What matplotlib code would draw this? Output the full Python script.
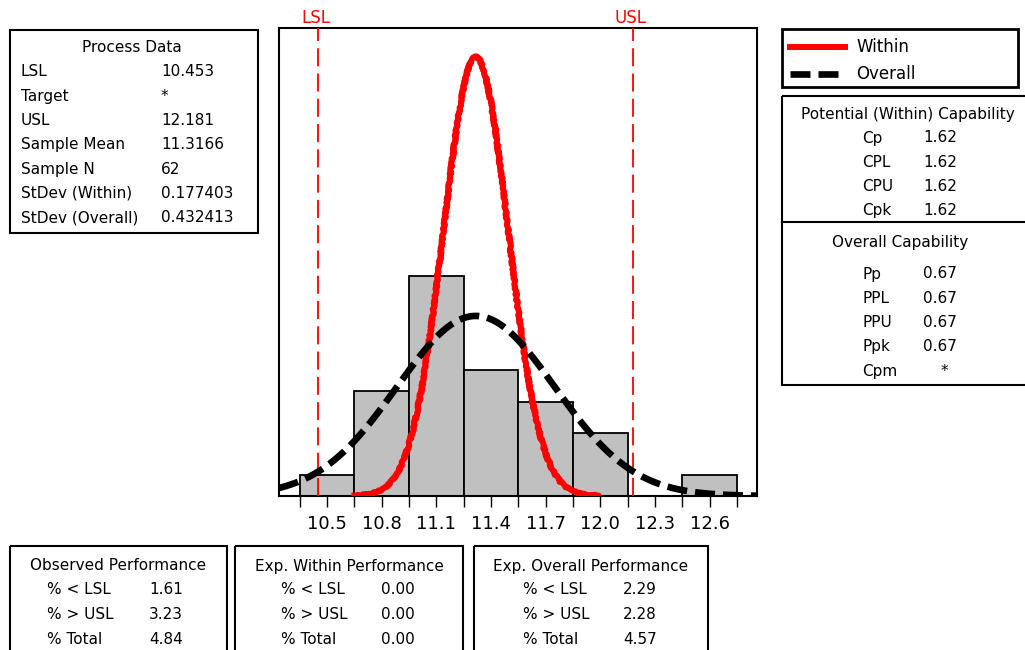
import numpy as np
import matplotlib
matplotlib.use("Agg")
import matplotlib.pyplot as plt
from matplotlib.patches import Rectangle
from matplotlib.lines import Line2D

# datos del histograma
bin_centers = [10.5, 10.8, 11.1, 11.4, 11.7, 12.0, 12.3, 12.6]
counts = [2, 10, 21, 12, 9, 6, 0, 2]
bin_width = 0.3

LSL = 10.453
USL = 12.181
mean = 11.3166
sd_within = 0.177403
sd_overall = 0.432413
N = 62

process_labels = ["LSL", "Target", "USL", "Sample Mean", "Sample N", "StDev (Within)", "StDev (Overall)"]
process_values = ["10.453", "*", "12.181", "11.3166", "62", "0.177403", "0.432413"]

within_labels = ["Cp", "CPL", "CPU", "Cpk"]
within_values = ["1.62", "1.62", "1.62", "1.62"]
overall_labels = ["Pp", "PPL", "PPU", "Ppk", "Cpm"]
overall_values = ["0.67", "0.67", "0.67", "0.67", "*"]

perf_rows = ["% < LSL", "% > USL", "% Total"]
obs_perf = ["1.61", "3.23", "4.84"]
exp_within_perf = ["0.00", "0.00", "0.00"]
exp_overall_perf = ["2.29", "2.28", "4.57"]

# rango de las curvas
within_range = (10.65, 11.99)
xlim = (10.237, 12.859)

W, H = 1025, 650
fig = plt.figure(figsize=(W / 100, H / 100), dpi=100)
plt.rcParams['font.family'] = ['DejaVu Sans']

ax = fig.add_axes([279 / W, 1 - 496 / H, (757 - 279) / W, (496 - 28) / H])
ax.bar(bin_centers, counts, width=bin_width, color='#c0c0c0', edgecolor='black', linewidth=1.3, zorder=2)


def normal(x, mu, s):
    return N * bin_width * np.exp(-0.5 * ((x - mu) / s) ** 2) / (s * np.sqrt(2 * np.pi))


dash = (0, (3.0, 1.2))
xw = np.linspace(within_range[0], within_range[1], 300)
xo = np.linspace(xlim[0], xlim[1], 400)
lw_line, = ax.plot(xw, normal(xw, mean, sd_within), color='red', lw=4.3, zorder=4)
lo_line, = ax.plot(xo, normal(xo, mean, sd_overall), color='black', lw=4.8,
                   linestyle=dash, zorder=5)
lw_line.set_sketch_params(scale=0.8, length=3, randomness=10)

for v in (LSL, USL):
    ax.axvline(v, color='red', lw=1.3, linestyle=(0, (10, 4)), zorder=3)

ax.set_xlim(*xlim)
ax.set_ylim(0, 44.6)
ax.set_yticks([])
ax.set_xticks(bin_centers)
ax.set_xticklabels([f"{c:.1f}" for c in bin_centers], fontsize=13)
ax.set_xticks([c - bin_width / 2 for c in bin_centers] + [bin_centers[-1] + bin_width / 2], minor=True)
ax.tick_params(axis='x', which='both', length=8, width=1, pad=6)
for sp in ax.spines.values():
    sp.set_linewidth(1.5)

# capa superior en pixeles para cajas y textos
ov = fig.add_axes([0, 0, 1, 1], facecolor='none')
ov.set_xlim(0, W)
ov.set_ylim(H, 0)
ov.axis('off')

fs = 11


def box(x0, y0, x1, y1, lw=1.5):
    ov.add_patch(Rectangle((x0, y0), x1 - x0, y1 - y0, fill=False, edgecolor='black', lw=lw, clip_on=False))


def txt(x, y, s, ha='left', color='black', size=fs):
    ov.text(x, y, s, ha=ha, va='center', fontsize=size, color=color)


txt(316, 18, "LSL", ha='center', color='red', size=12)
txt(631, 18, "USL", ha='center', color='red', size=12)

# Process Data
box(10, 30, 258, 233)
txt(132, 47, "Process Data", ha='center')
for i, (lab, val) in enumerate(zip(process_labels, process_values)):
    y = 72 + i * 24.3
    txt(21, y, lab)
    txt(161, y, val)

# leyenda
box(782, 29, 1018, 87, lw=2)
ov.add_line(Line2D([790, 845], [47, 47], color='red', lw=4.3))
ov.add_line(Line2D([790, 845], [74, 74], color='black', lw=4.8, linestyle=dash))
txt(856, 47, "Within", size=12)
txt(856, 74, "Overall", size=12)

# capacidades
box(782, 96, 1030, 385)
ov.add_line(Line2D([782, 1030], [222, 222], color='black', lw=1.5))
txt(908, 114, "Potential (Within) Capability", ha='center')
for i, (lab, val) in enumerate(zip(within_labels, within_values)):
    y = 138 + i * 24.3
    txt(862, y, lab)
    txt(923, y, val)
txt(900, 243, "Overall Capability", ha='center')
for i, (lab, val) in enumerate(zip(overall_labels, overall_values)):
    y = 274 + i * 24.3
    txt(862, y, lab)
    txt(944 if val == "*" else 923, y, val, ha='center' if val == "*" else 'left')

# desempeno
perf_boxes = [
    (10, 227, "Observed Performance", obs_perf, 47, 149),
    (235, 463, "Exp. Within Performance", exp_within_perf, 281, 381),
    (474, 708, "Exp. Overall Performance", exp_overall_perf, 523, 623),
]
for x0, x1, title, vals, xl, xv in perf_boxes:
    box(x0, 546, x1, 660)
    txt((x0 + x1) / 2, 566, title, ha='center')
    for i, (lab, val) in enumerate(zip(perf_rows, vals)):
        y = 590 + i * 24.5
        txt(xl, y, lab)
        txt(xv, y, val)

fig.savefig("out.png", dpi=100, facecolor='white')
